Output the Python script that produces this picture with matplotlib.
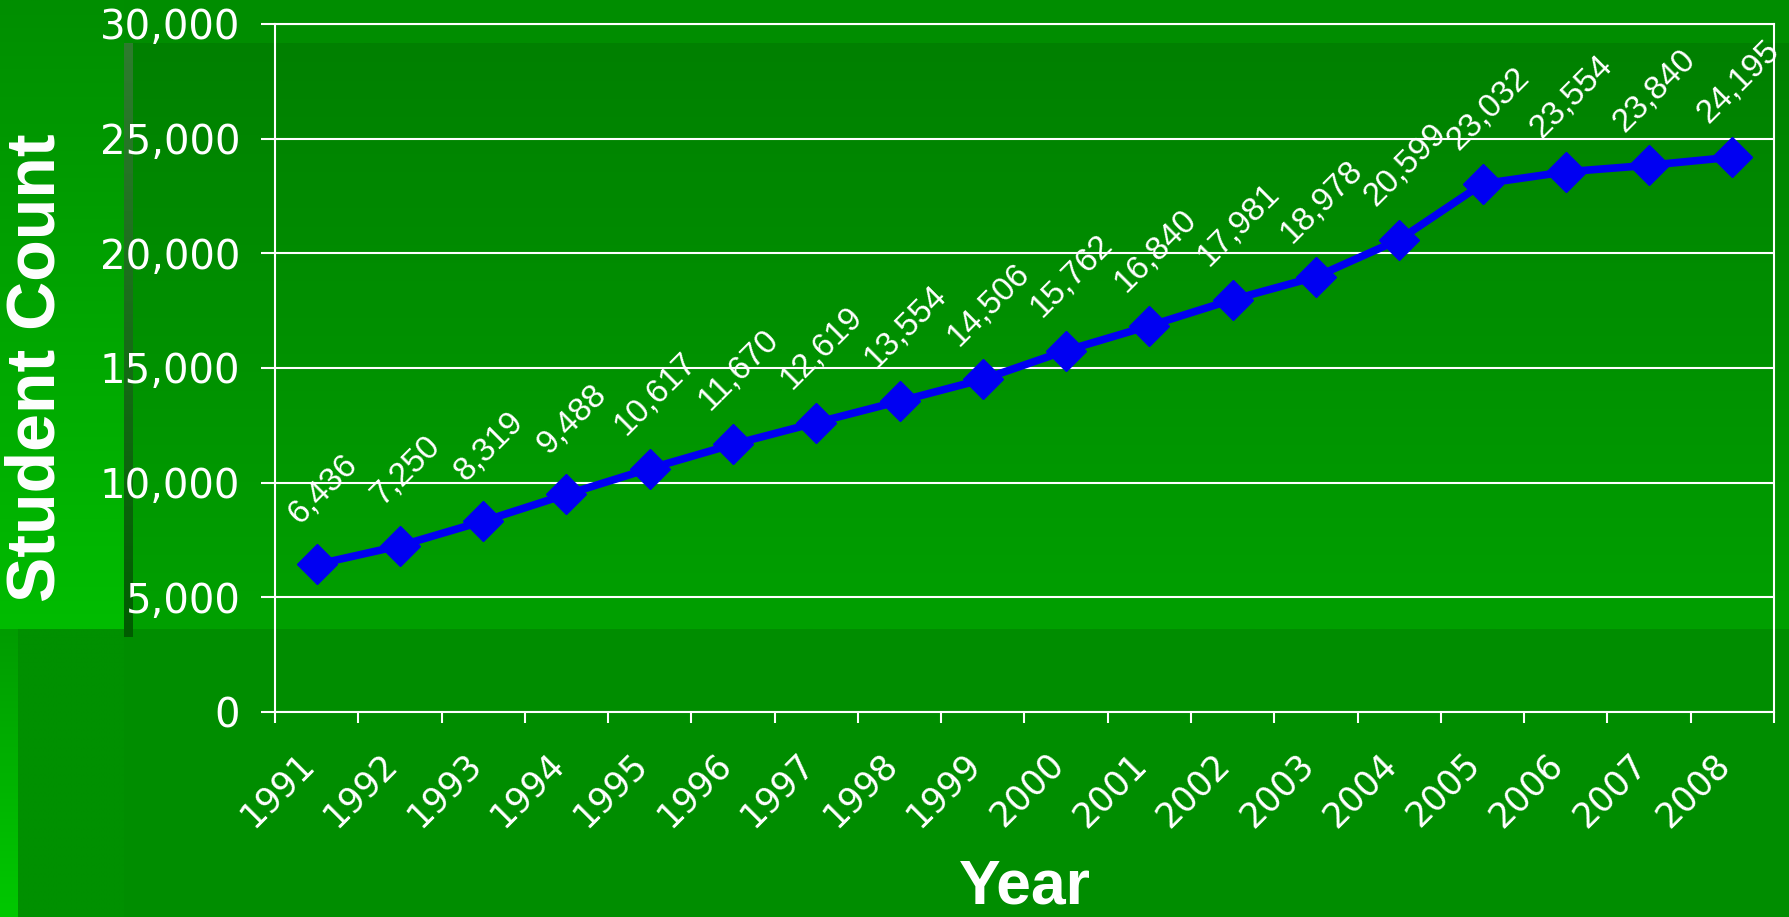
import numpy as np
import matplotlib.pyplot as plt
from matplotlib.transforms import ScaledTranslation

# enrolment by year
years = ['1991', '1992', '1993', '1994', '1995', '1996', '1997', '1998', '1999',
         '2000', '2001', '2002', '2003', '2004', '2005', '2006', '2007', '2008']
counts = [6436, 7250, 8319, 9488, 10617, 11670, 12619, 13554, 14506,
          15762, 16840, 17981, 18978, 20599, 23032, 23554, 23840, 24195]
yticks = [0, 5000, 10000, 15000, 20000, 25000, 30000]

W, H = 1789, 917
fig = plt.figure(figsize=(W / 100, H / 100), dpi=100)
fig.patch.set_facecolor('#008d00')

# slide background, in pixel coordinates
bg = fig.add_axes([0, 0, 1, 1], zorder=-1)
bg.set_axis_off()

def hexrgb(h):
    h = h.lstrip('#')
    return np.array([int(h[i:i + 2], 16) / 255 for i in (0, 2, 4)])

def band(x0, x1, y0, y1, top, bottom):
    t = np.linspace(0, 1, 256)[:, None, None]
    c = (1 - t) * hexrgb(top) + t * hexrgb(bottom)
    bg.imshow(c, extent=(x0, x1, y1, y0), aspect='auto', interpolation='bilinear')

band(0, 124, 0, 629, '#008e00', '#00bc00')
band(0, 18, 629, H, '#009c00', '#00c800')
band(18, 124, 629, H, '#009000', '#009000')
band(124, W, 43, 629, '#008000', '#00a000')
band(124, 133, 43, 637, '#2e7c2e', '#005c00')
bg.set_xlim(0, W)
bg.set_ylim(H, 0)

# chart
ax = fig.add_axes([275 / W, (H - 712) / H, (1774 - 275) / W, (712 - 24) / H])
ax.set_facecolor('none')
x = np.arange(len(years))
ax.plot(x, counts, color='#0000f2', lw=5.5, marker='D', markersize=20,
        markeredgewidth=1, markeredgecolor='#0000f2', zorder=3, clip_on=False)

for xi, v in zip(x, counts):
    ax.annotate(f'{v:,}', (xi, v), xytext=(4, 54), textcoords='offset points',
                ha='center', va='center', rotation=45, color='white',
                fontsize=24, family='Liberation Sans', zorder=4)

ax.set_xlim(-0.5, len(years) - 0.5)
ax.set_ylim(0, 30000)
ax.set_yticks(yticks)
ax.set_yticklabels([f'{v:,}' for v in yticks])
ax.set_xticks(x)
ax.set_xticklabels(years)
ax.set_xticks(np.arange(-0.5, len(years)), minor=True)

ax.grid(axis='y', color='white', lw=1.5)
ax.set_axisbelow(True)
for s in ax.spines.values():
    s.set_color('white')
    s.set_linewidth(1.5)

ax.tick_params(axis='y', colors='white', length=10, width=1.5, pad=15, labelsize=29)
ax.tick_params(axis='x', which='major', colors='white', length=0, pad=25, labelsize=25)
ax.tick_params(axis='x', which='minor', colors='white', length=8, width=1.5)

shift = ScaledTranslation(-20 / 100, 0, fig.dpi_scale_trans)
for lab in ax.get_xticklabels():
    lab.set_rotation(45)
    lab.set_ha('right')
    lab.set_va('top')
    lab.set_rotation_mode('anchor')
    lab.set_transform(lab.get_transform() + shift)

ax.set_ylabel('Student Count', color='white', fontsize=49, fontweight='bold',
              family='Liberation Sans', va='center')
ax.yaxis.set_label_coords((36 - 275) / (1774 - 275), 0.5)
ax.set_xlabel('Year', color='white', fontsize=45, fontweight='bold',
              family='Liberation Sans', va='baseline')
ax.xaxis.set_label_coords(0.5, (712 - 903) / (712 - 24))

fig.savefig('out.png', dpi=100)
